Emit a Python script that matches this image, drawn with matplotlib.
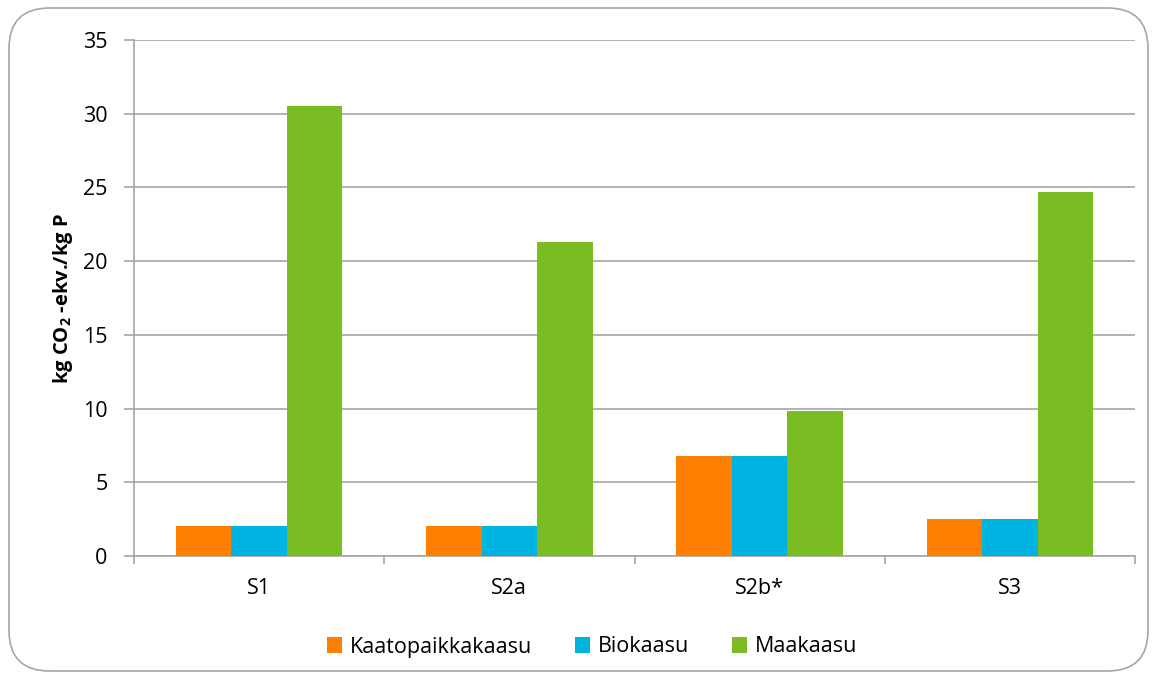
import numpy as np
import matplotlib
matplotlib.use('Agg')
import matplotlib.pyplot as plt
from matplotlib.patches import FancyBboxPatch

plt.rcParams['font.family'] = ['Open Sans', 'DejaVu Sans']
plt.rcParams['mathtext.fontset'] = 'custom'
plt.rcParams['mathtext.rm'] = 'Open Sans'
plt.rcParams['mathtext.bf'] = 'Open Sans:bold'

categories = ['S1', 'S2a', 'S2b*', 'S3']
series = ['Kaatopaikkakaasu', 'Biokaasu', 'Maakaasu']
kaatopaikkakaasu = [2.05, 2.05, 6.78, 2.5]
biokaasu = [2.05, 2.05, 6.78, 2.5]
maakaasu = [30.5, 21.3, 9.82, 24.7]
colors = ['#ff8000', '#00b4e1', '#7abd22']

fig = plt.figure(figsize=(11.57, 6.79), dpi=100)
ax = fig.add_axes([134/1157, 1-556/679, 1001/1157, 516/679])

# rounded frame round the whole chart
frame = FancyBboxPatch((9/1157, 8/679), 1139/1157, 663/679,
                       boxstyle='round,pad=0,rounding_size=0.035',
                       transform=fig.transFigure, fill=False,
                       edgecolor='#a6a6a6', linewidth=1.2,
                       mutation_aspect=1157/679)
fig.patches.append(frame)

x = np.arange(len(categories))
w = 0.222
for i, (vals, name) in enumerate(zip([kaatopaikkakaasu, biokaasu, maakaasu], series)):
    ax.bar(x + (i - 1) * w, vals, width=w, color=colors[i], label=name, zorder=3)

ax.set_xlim(-0.5, len(categories) - 0.5)
ax.set_ylim(0, 35)
ax.set_yticks(np.arange(0, 36, 5))
ax.yaxis.grid(True, color='#a6a6a6', linewidth=1.2, zorder=0)
ax.set_axisbelow(True)

fs = 15.5
ax.set_xticks(x)
ax.set_xticklabels(categories, fontsize=fs)
ax.set_xticks(np.arange(-0.5, len(categories), 1.0), minor=True)
ax.tick_params(axis='x', which='major', length=0, pad=16)
ax.tick_params(axis='x', which='minor', length=6, color='#a6a6a6', width=1.2)
ax.tick_params(axis='y', length=7, color='#a6a6a6', width=1.2, labelsize=fs, pad=12)

for s in ['top', 'right']:
    ax.spines[s].set_visible(False)
for s in ['left', 'bottom']:
    ax.spines[s].set_color('#a6a6a6')
    ax.spines[s].set_linewidth(1.2)

ax.set_ylabel(r'kg CO$_\mathbf{2}$ -ekv./kg P', fontsize=14.5, fontweight='bold', labelpad=6)

leg = fig.legend(loc='center', bbox_to_anchor=(592/1157, 1-647/679), ncol=3, frameon=False,
                 fontsize=fs, handlelength=0.7, handleheight=0.7,
                 handletextpad=0.35, columnspacing=2.0)

fig.savefig('out.png', dpi=100)
